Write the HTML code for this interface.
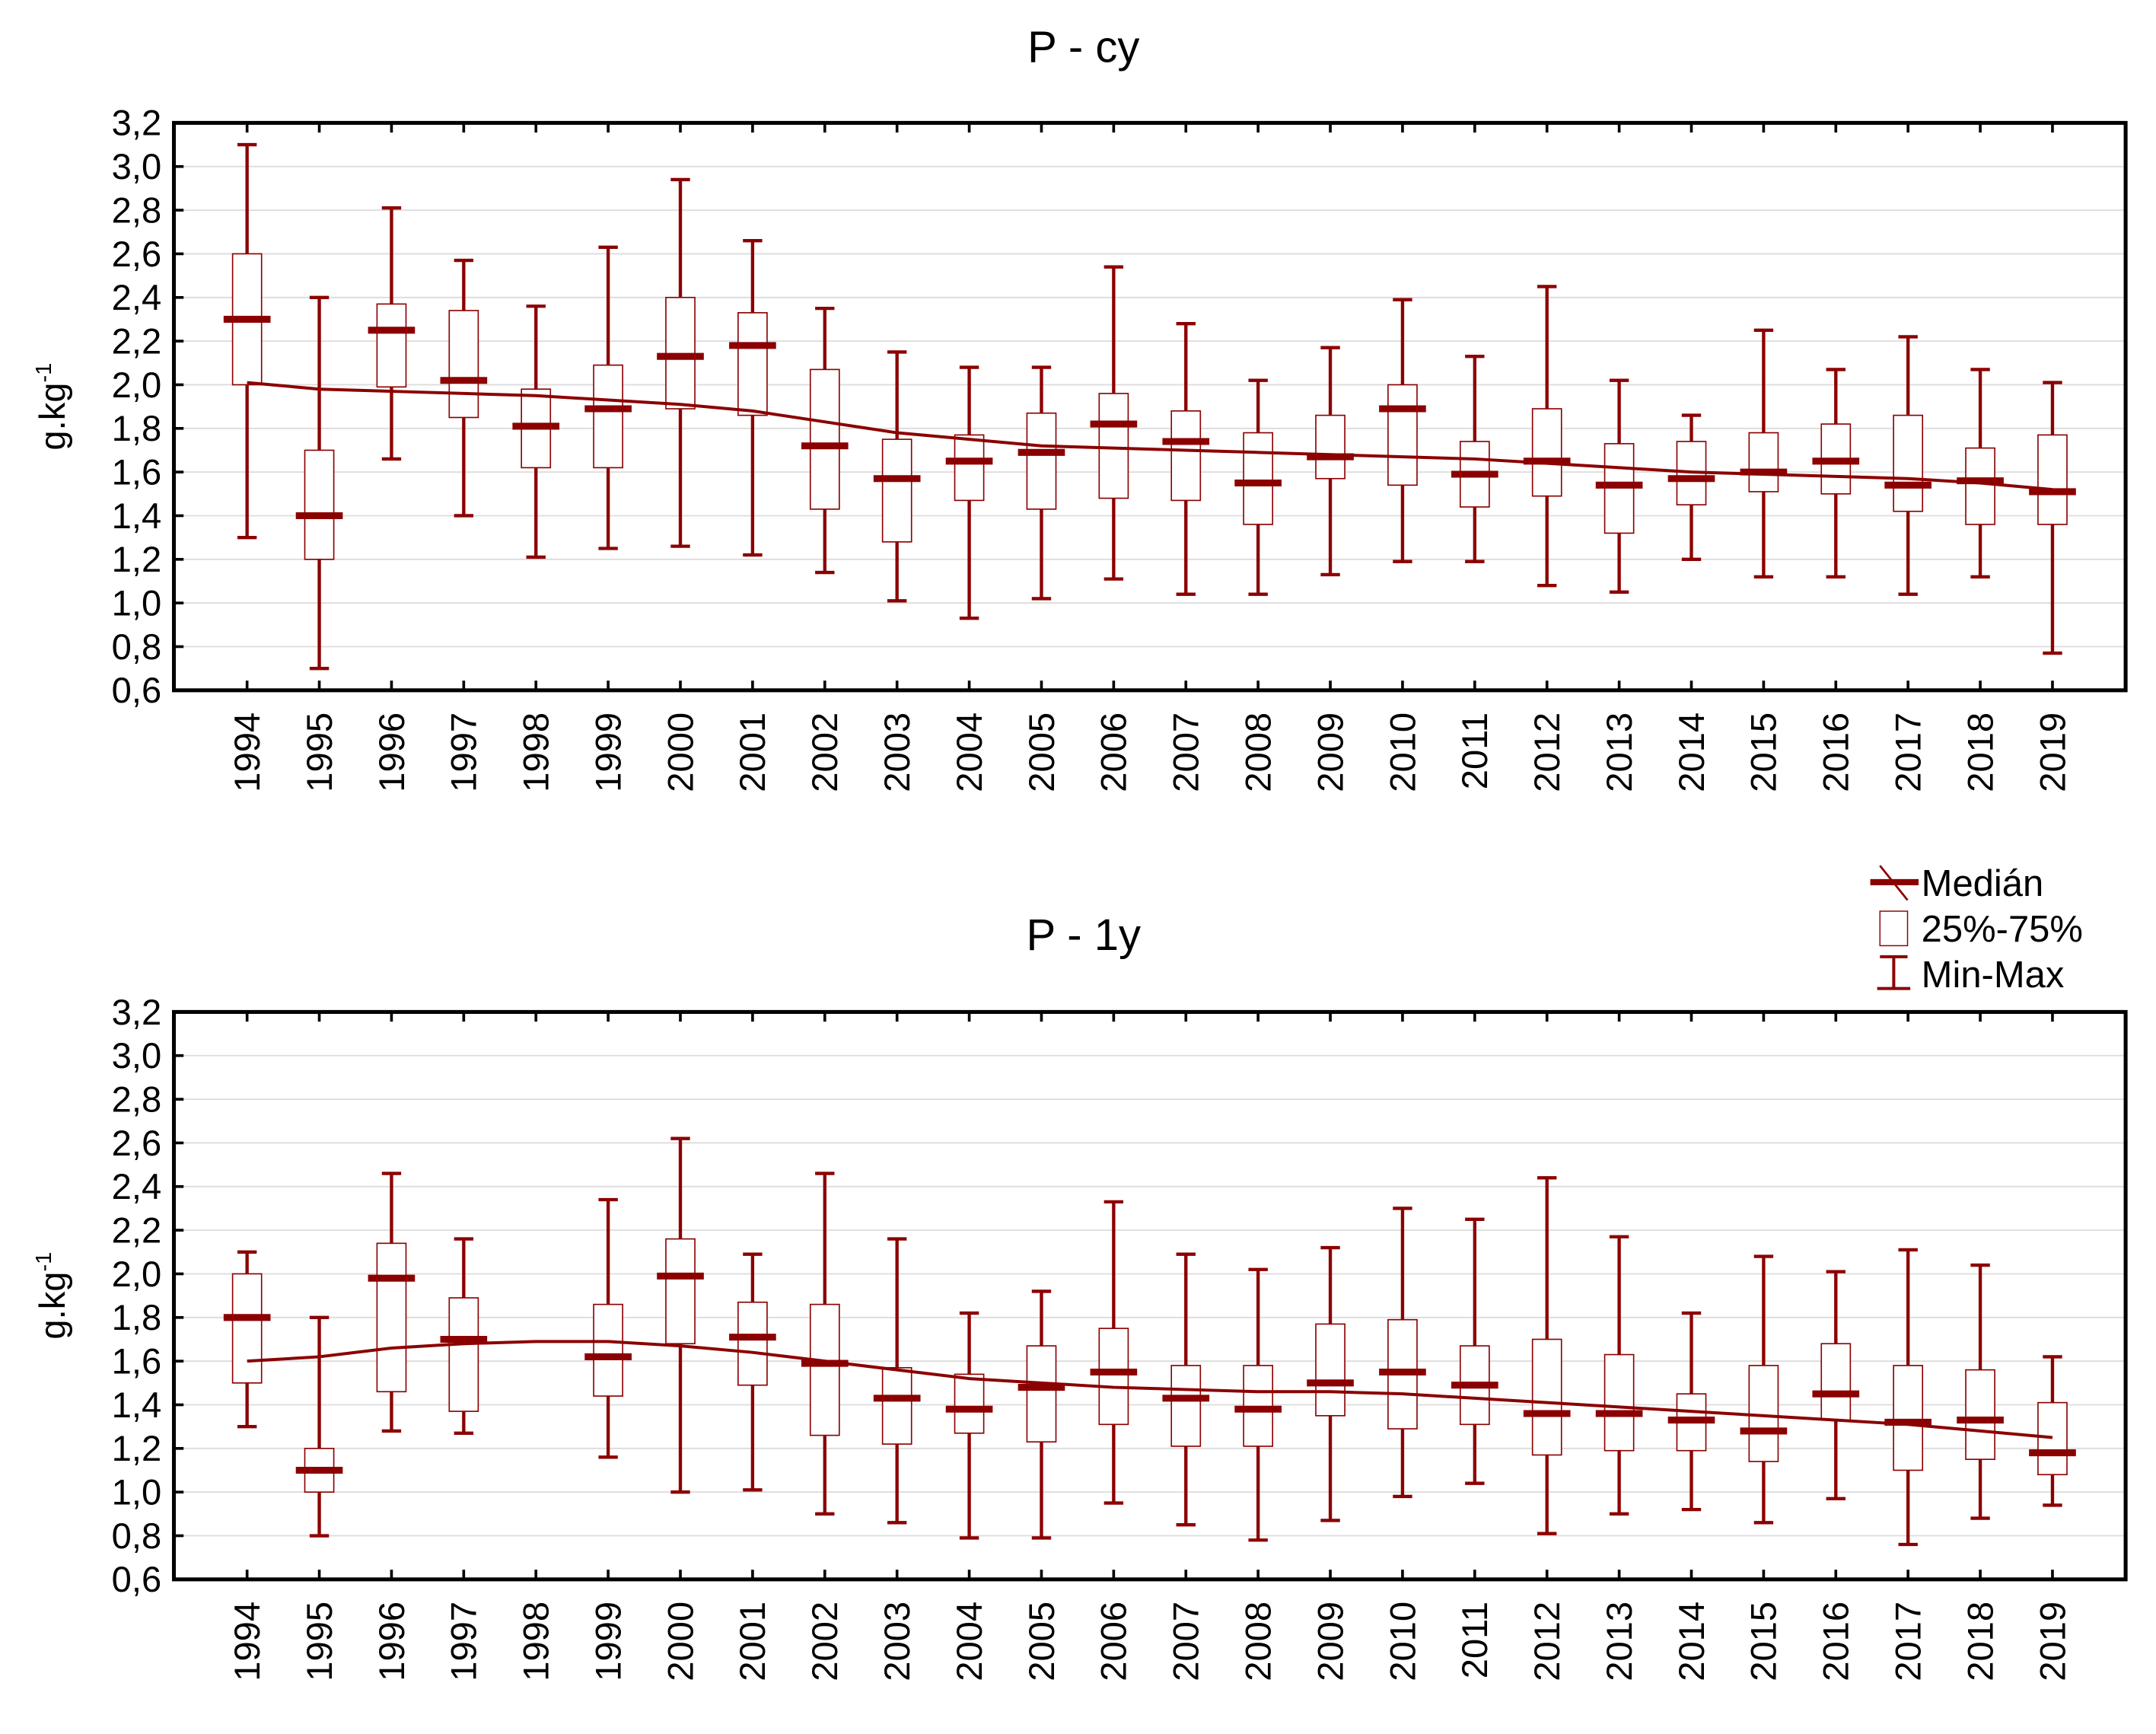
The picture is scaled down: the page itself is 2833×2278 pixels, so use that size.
<!DOCTYPE html>
<html><head><meta charset="utf-8"><style>
html,body{margin:0;padding:0;background:#fff}
svg{display:block;font-family:"Liberation Sans",Arial,sans-serif}
</style></head><body>
<svg id="chart" xmlns="http://www.w3.org/2000/svg" width="2833" height="2278" viewBox="0 0 1562 1256">
<rect width="1562" height="1256" fill="#fff"/>
<text x="785" y="45" font-size="32" text-anchor="middle">P - cy</text>
<text x="785" y="688" font-size="32" text-anchor="middle">P - 1y</text>
<g>
<line x1="1355" y1="639" x2="1390" y2="639" stroke="#8b0000" stroke-width="4.5"/>
<line x1="1362" y1="627" x2="1382" y2="652" stroke="#8b0000" stroke-width="1.5"/>
<text x="1392" y="649" font-size="27">Medián</text>
<rect x="1362" y="660" width="20" height="25" fill="#fff" stroke="#8b0000" stroke-width="0.8"/>
<text x="1392" y="682" font-size="27">25%-75%</text>
<line x1="1372" y1="693" x2="1372" y2="716" stroke="#8b0000" stroke-width="2.2"/>
<line x1="1362" y1="693" x2="1382" y2="693" stroke="#8b0000" stroke-width="2.2"/>
<line x1="1360" y1="716" x2="1384" y2="716" stroke="#8b0000" stroke-width="2.2"/>
<text x="1392" y="715" font-size="27">Min-Max</text>
</g>
</svg>
<script>
const years=[1994,1995,1996,1997,1998,1999,2000,2001,2002,2003,2004,2005,2006,2007,2008,2009,2010,2011,2012,2013,2014,2015,2016,2017,2018,2019];
const yTicks=[0.6,0.8,1.0,1.2,1.4,1.6,1.8,2.0,2.2,2.4,2.6,2.8,3.0,3.2];
const cyMin=[1.30,0.70,1.66,1.40,1.21,1.25,1.26,1.22,1.14,1.01,0.93,1.02,1.11,1.04,1.04,1.13,1.19,1.19,1.08,1.05,1.20,1.12,1.12,1.04,1.12,0.77];
const cyQ1=[2.00,1.20,1.99,1.85,1.62,1.62,1.89,1.86,1.43,1.28,1.47,1.43,1.48,1.47,1.36,1.57,1.54,1.44,1.49,1.32,1.45,1.51,1.50,1.42,1.36,1.36];
const cyMed=[2.30,1.40,2.25,2.02,1.81,1.89,2.13,2.18,1.72,1.57,1.65,1.69,1.82,1.74,1.55,1.67,1.89,1.59,1.65,1.54,1.57,1.60,1.65,1.54,1.56,1.51];
const cyQ3=[2.60,1.70,2.37,2.34,1.98,2.09,2.40,2.33,2.07,1.75,1.77,1.87,1.96,1.88,1.78,1.86,2.00,1.74,1.89,1.73,1.74,1.78,1.82,1.86,1.71,1.77];
const cyMax=[3.10,2.40,2.81,2.57,2.36,2.63,2.94,2.66,2.35,2.15,2.08,2.08,2.54,2.28,2.02,2.17,2.39,2.13,2.45,2.02,1.86,2.25,2.07,2.22,2.07,2.01];
const cyTrend=[2.01,1.98,1.97,1.96,1.95,1.93,1.91,1.88,1.83,1.78,1.75,1.72,1.71,1.70,1.69,1.68,1.67,1.66,1.64,1.62,1.60,1.59,1.58,1.57,1.55,1.52];
const y1Min=[1.30,0.80,1.28,1.27,null,1.16,1.00,1.01,0.90,0.86,0.79,0.79,0.95,0.85,0.78,0.87,0.98,1.04,0.81,0.90,0.92,0.86,0.97,0.76,0.88,0.94];
const y1Q1=[1.50,1.00,1.46,1.37,null,1.44,1.68,1.49,1.26,1.22,1.27,1.23,1.31,1.21,1.21,1.35,1.29,1.31,1.17,1.19,1.19,1.14,1.33,1.10,1.15,1.08];
const y1Med=[1.80,1.10,1.98,1.70,null,1.62,1.99,1.71,1.59,1.43,1.38,1.48,1.55,1.43,1.38,1.50,1.55,1.49,1.36,1.36,1.33,1.28,1.45,1.32,1.33,1.18];
const y1Q3=[2.00,1.20,2.14,1.89,null,1.86,2.16,1.87,1.86,1.57,1.54,1.67,1.75,1.58,1.58,1.77,1.79,1.67,1.70,1.63,1.45,1.58,1.68,1.58,1.56,1.41];
const y1Max=[2.10,1.80,2.46,2.16,null,2.34,2.62,2.09,2.46,2.16,1.82,1.92,2.33,2.09,2.02,2.12,2.30,2.25,2.44,2.17,1.82,2.08,2.01,2.11,2.04,1.62];
const y1Trend=[1.60,1.62,1.66,1.68,1.69,1.69,1.67,1.64,1.60,1.56,1.52,1.50,1.48,1.47,1.46,1.46,1.45,1.43,1.41,1.39,1.37,1.35,1.33,1.31,1.28,1.25];

const NS='http://www.w3.org/2000/svg';
const svg=document.getElementById('chart');
const RED='#8b0000';
function mk(tag,attrs,parent){const e=document.createElementNS(NS,tag);for(const k in attrs)e.setAttribute(k,attrs[k]);(parent||svg).appendChild(e);return e;}

function panel(top,bottom,mins,q1s,meds,q3s,maxs,trend,prefix){
  const L=126,R=1540;
  const g=mk('g',{});
  
  
  const yS=v=>bottom-(v-0.6)/(3.2-0.6)*(bottom-top);
  const xS=i=>179+i*(1487-179)/(years.length-1);
  yTicks.forEach(t=>{
    const y=yS(t);
    if(t>0.6&&t<3.2){const gl=mk('line',{x1:L,x2:R,y1:y,y2:y,stroke:'#dcdcdc','stroke-width':1},g);
      
      }
    mk('line',{x1:L,x2:L+7,y1:y,y2:y,stroke:'#000','stroke-width':2},g);
    const tx=mk('text',{x:L-9,y:y+9,'font-size':26,'text-anchor':'end'},g);
    tx.textContent=t.toFixed(1).replace('.',',');
    
    
  });
  years.forEach((yr,i)=>{
    const x=xS(i);
    mk('line',{x1:x,x2:x,y1:top,y2:top+7,stroke:'#000','stroke-width':2},g);
    mk('line',{x1:x,x2:x,y1:bottom,y2:bottom-7,stroke:'#000','stroke-width':2},g);
    const tx=mk('text',{x:0,y:0,'font-size':26,'text-anchor':'end',transform:`translate(${x+9},${bottom+16}) rotate(-90)`},g);
    tx.textContent=yr;
    
    
    if(mins[i]==null)return;
    const bg=mk('g',{},g);
    
    
    mk('line',{x1:x,x2:x,y1:yS(mins[i]),y2:yS(maxs[i]),stroke:RED,'stroke-width':2.4},bg);
    mk('line',{x1:x-7,x2:x+7,y1:yS(mins[i]),y2:yS(mins[i]),stroke:RED,'stroke-width':2.4},bg);
    mk('line',{x1:x-7,x2:x+7,y1:yS(maxs[i]),y2:yS(maxs[i]),stroke:RED,'stroke-width':2.4},bg);
    mk('rect',{x:x-10.5,y:yS(q3s[i]),width:21,height:yS(q1s[i])-yS(q3s[i]),fill:'#fff',stroke:RED,'stroke-width':0.9},bg);
  });
  const pts=trend.map((v,i)=>xS(i)+','+yS(v)).join(' ');
  const pl=mk('polyline',{points:pts,fill:'none',stroke:RED,'stroke-width':2.2},g);
  
  
  years.forEach((yr,i)=>{
    if(meds[i]==null)return;
    const x=xS(i);
    const m=mk('line',{x1:x-17,x2:x+17,y1:yS(meds[i]),y2:yS(meds[i]),stroke:RED,'stroke-width':5},g);
    
    
  });
  mk('rect',{x:L,y:top,width:R-L,height:bottom-top,fill:'none',stroke:'#000','stroke-width':2.8},g);
  const yl=mk('text',{x:0,y:0,'font-size':26,'text-anchor':'middle',transform:`translate(47,${(top+bottom)/2}) rotate(-90)`},g);
  yl.innerHTML='g.kg<tspan dy="-10" font-size="16">-1</tspan>';
  
  
}
panel(89,500,cyMin,cyQ1,cyMed,cyQ3,cyMax,cyTrend,'cy');
panel(733,1144,y1Min,y1Q1,y1Med,y1Q3,y1Max,y1Trend,'1y');
</script>
</body></html>
